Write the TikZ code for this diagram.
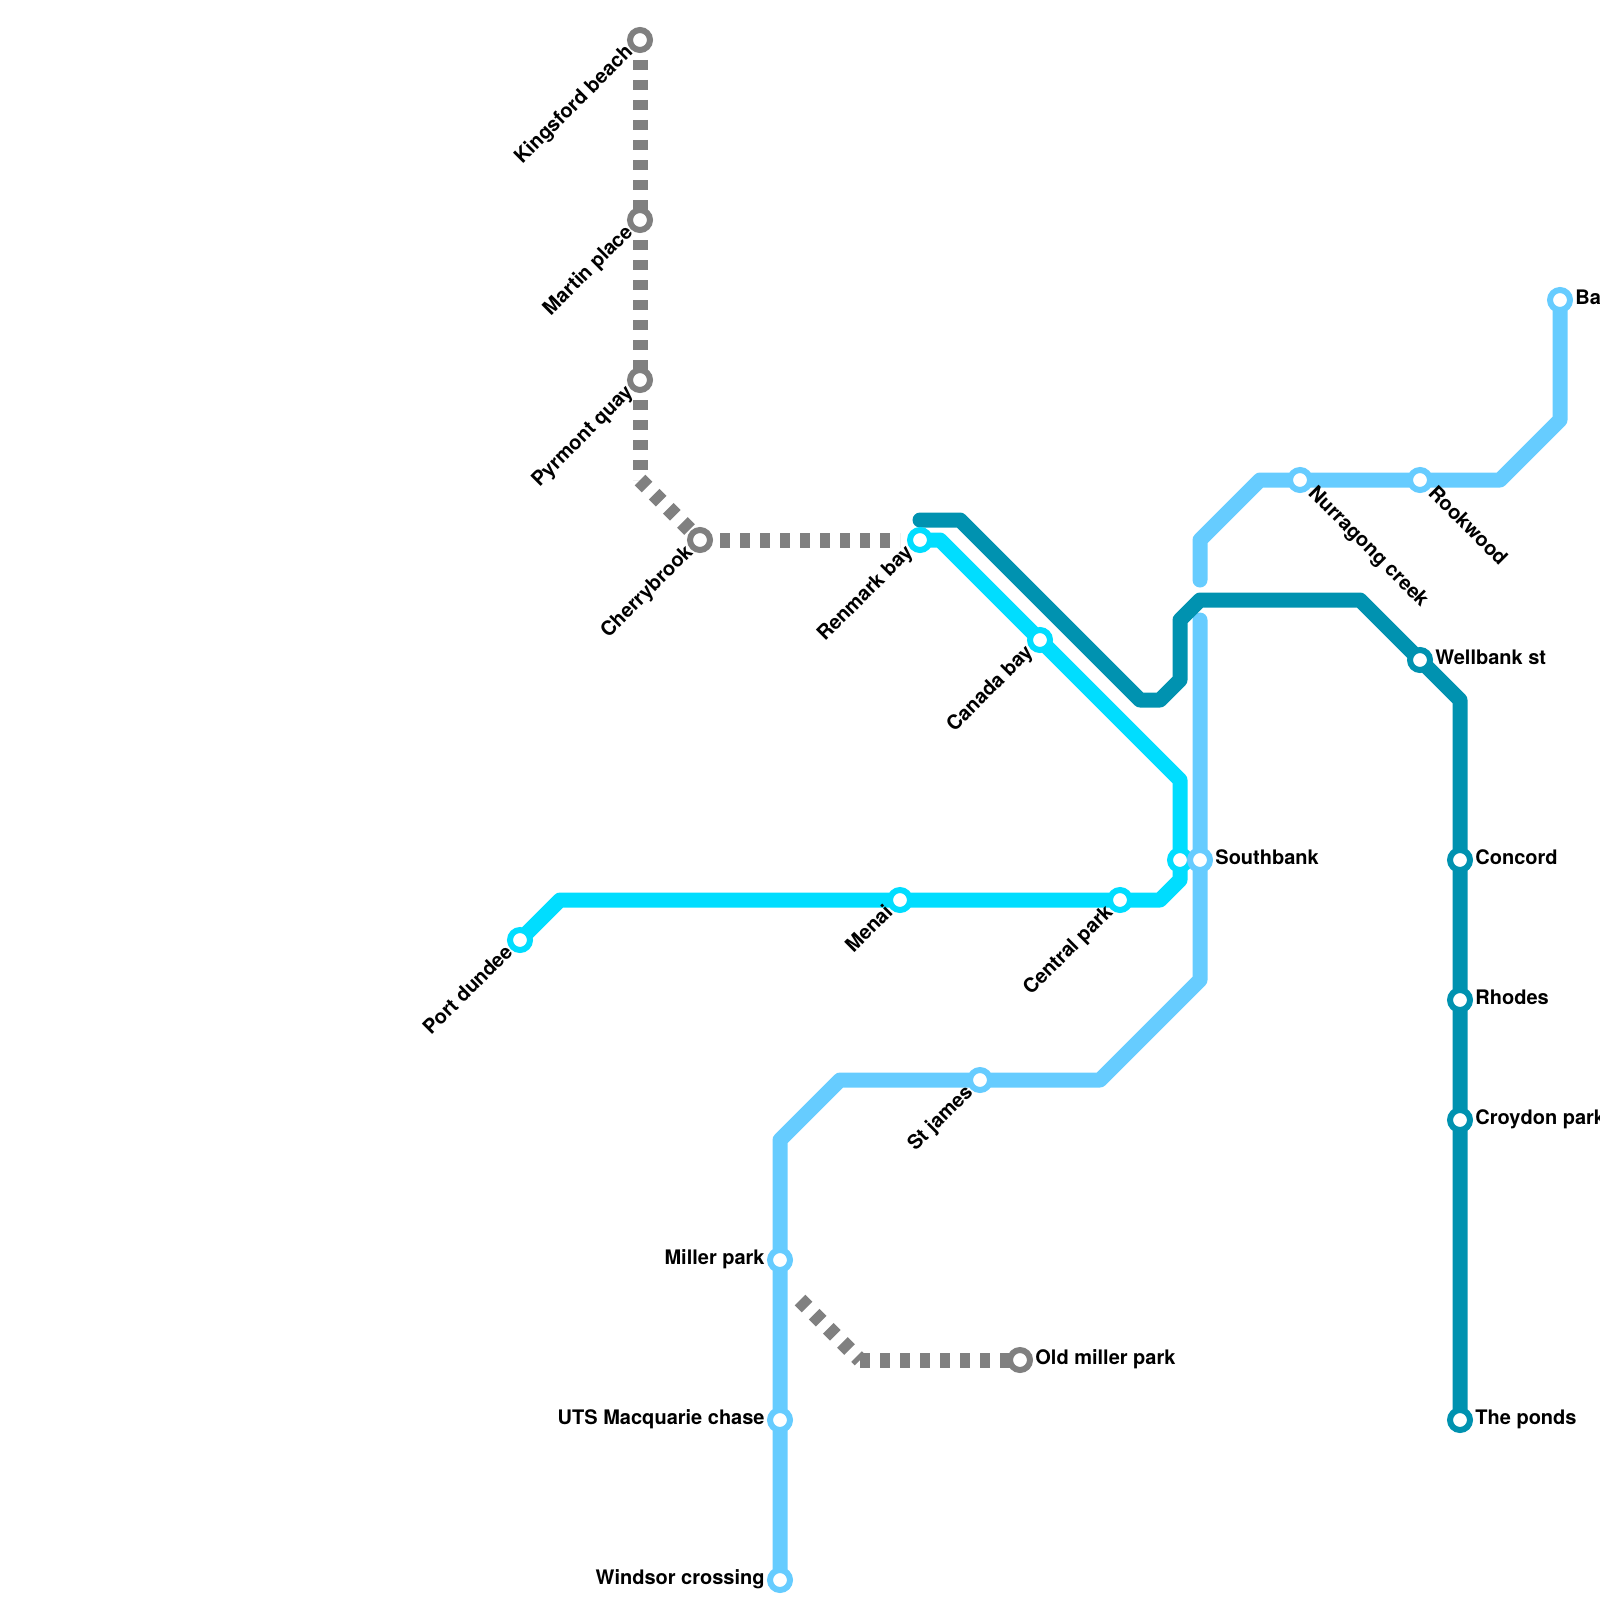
\documentclass[tikz,border=0pt]{standalone}
\usepackage{fontspec}
\setmainfont{TeX Gyre Heros}
\usetikzlibrary{backgrounds}
\definecolor{linecyan}{HTML}{00DDFF}
\definecolor{linedark}{HTML}{0092B0}
\definecolor{linelight}{HTML}{66CCFF}
\definecolor{linegrey}{HTML}{808080}
\tikzset{
    rail/.style={line width=7.5pt,line cap=round,line join=round},
    disused/.style={line width=7.5pt,linegrey,dash pattern=on 5pt off 5pt},
    stn/.style={circle,draw=#1,fill=white,line width=3pt,minimum size=10pt,inner sep=0pt,outer sep=0pt},
    lbl/.style={font=\bfseries\fontsize{10pt}{12pt}\selectfont,inner sep=0pt,text=black},
    lblright/.style={lbl,anchor=base west},
    lblleft/.style={lbl,anchor=base east},
    lblup/.style={lbl,anchor=base east,rotate=45},
    lbldown/.style={lbl,anchor=base west,rotate=-45},
}
\begin{document}
\begin{tikzpicture}[x=10pt,y=-10pt]
    \useasboundingbox (0,0) rectangle (80,80);
    \clip (0,0) rectangle (80,80);
    % grey
    \node[stn=linegrey] (kingsford) at (32,2) {};
    \node[stn=linegrey] (martin) at (32,11) {};
    \node[stn=linegrey] (pyrmont) at (32,19) {};
    \node[stn=linegrey] (cherrybrook) at (35,27) {};
    \node[stn=linegrey] (oldmiller) at (51,68) {};
    % cyan
    \node[stn=linecyan] (renmark) at (46,27) {};
    \node[stn=linecyan] (canada) at (52,32) {};
    \node[stn=linecyan] (southcyan) at (59,43) {};
    \node[stn=linecyan] (central) at (56,45) {};
    \node[stn=linecyan] (menai) at (45,45) {};
    \node[stn=linecyan] (dundee) at (26,47) {};
    % dark
    \node[stn=linedark] (wellbank) at (71,33) {};
    \node[stn=linedark] (concord) at (73,43) {};
    \node[stn=linedark] (rhodes) at (73,50) {};
    \node[stn=linedark] (croydon) at (73,56) {};
    \node[stn=linedark] (ponds) at (73,71) {};
    % light
    \node[stn=linelight] (ba) at (78,15) {};
    \node[stn=linelight] (rookwood) at (71,24) {};
    \node[stn=linelight] (nurragong) at (65,24) {};
    \node[stn=linelight] (southlight) at (60,43) {};
    \node[stn=linelight] (stjames) at (49,54) {};
    \node[stn=linelight] (miller) at (39,63) {};
    \node[stn=linelight] (uts) at (39,71) {};
    \node[stn=linelight] (windsor) at (39,79) {};
    % bends
    \coordinate (g1) at (32,24);
    \coordinate (g2) at (45,27);
    \coordinate (g3) at (40,65);
    \coordinate (g4) at (43,68);
    \coordinate (c1) at (28,45);
    \coordinate (c2) at (58,45);
    \coordinate (c3) at (59,44);
    \coordinate (c4) at (59,39);
    \coordinate (c5) at (47,27);
    \coordinate (d0) at (46,26);
    \coordinate (d1) at (48,26);
    \coordinate (d2) at (57,35);
    \coordinate (d3) at (58,35);
    \coordinate (d4) at (59,34);
    \coordinate (d5) at (59,31);
    \coordinate (d6) at (60,30);
    \coordinate (d7) at (68,30);
    \coordinate (d8) at (73,35);
    \coordinate (l1) at (78,21);
    \coordinate (l2) at (75,24);
    \coordinate (l3) at (63,24);
    \coordinate (l4) at (60,27);
    \coordinate (l5) at (60,29);
    \coordinate (l6) at (60,31);
    \coordinate (l7) at (60,49);
    \coordinate (l8) at (55,54);
    \coordinate (l9) at (42,54);
    \coordinate (l10) at (39,57);
    \begin{scope}[on background layer]
        \draw[disused] (kingsford.center) -- (martin.center) -- (pyrmont.center) -- (g1);
        \draw[disused] (g1) -- (cherrybrook.center);
        \draw[disused] (cherrybrook.center) -- (g2);
        \draw[disused] (g3) -- (g4);
        \draw[disused] (g4) -- (oldmiller.center);
        \draw[rail,linelight] (ba.center) -- (l1) -- (l2) -- (rookwood.center) -- (nurragong.center) -- (l3) -- (l4) -- (l5);
        \draw[rail,linelight] (l6) -- (southlight.center) -- (l7) -- (l8) -- (stjames.center) -- (l9) -- (l10) -- (miller.center) -- (uts.center) -- (windsor.center);
        \draw[rail,linecyan] (dundee.center) -- (c1) -- (menai.center) -- (central.center) -- (c2) -- (c3) -- (southcyan.center) -- (c4) -- (canada.center) -- (c5) -- (renmark.center);
        \draw[rail,linedark] (d0) -- (d1) -- (d2) -- (d3) -- (d4) -- (d5) -- (d6) -- (d7) -- (wellbank.center) -- (d8) -- (concord.center) -- (rhodes.center) -- (croydon.center) -- (ponds.center);
    \end{scope}
    % labels
    \node[lblup] (kingsfordlbl) at ([shift={(-0.3,0.65)}]kingsford.center) {Kingsford beach};
    \node[lblup] (martinlbl) at ([shift={(-0.3,0.65)}]martin.center) {Martin place};
    \node[lblup] (pyrmontlbl) at ([shift={(-0.3,0.65)}]pyrmont.center) {Pyrmont quay};
    \node[lblup] (cherrybrooklbl) at ([shift={(-0.3,0.65)}]cherrybrook.center) {Cherrybrook};
    \node[lblup] (renmarklbl) at ([shift={(-0.3,0.65)}]renmark.center) {Renmark bay};
    \node[lblup] (canadalbl) at ([shift={(-0.3,0.65)}]canada.center) {Canada bay};
    \node[lblup] (centrallbl) at ([shift={(-0.3,0.65)}]central.center) {Central park};
    \node[lblup] (menailbl) at ([shift={(-0.3,0.65)}]menai.center) {Menai};
    \node[lblup] (dundeelbl) at ([shift={(-0.3,0.65)}]dundee.center) {Port dundee};
    \node[lblup] (stjameslbl) at ([shift={(-0.3,0.65)}]stjames.center) {St james};
    \node[lbldown] (nurragonglbl) at ([shift={(0.35,0.7)}]nurragong.center) {Nurragong creek};
    \node[lbldown] (rookwoodlbl) at ([shift={(0.35,0.7)}]rookwood.center) {Rookwood};
    \node[lblright] (southbanklbl) at ([shift={(0.75,0.2)}]southlight.center) {Southbank};
    \node[lblright] (balbl) at ([shift={(0.75,0.2)}]ba.center) {Ba};
    \node[lblright] (wellbanklbl) at ([shift={(0.75,0.2)}]wellbank.center) {Wellbank st};
    \node[lblright] (concordlbl) at ([shift={(0.75,0.2)}]concord.center) {Concord};
    \node[lblright] (rhodeslbl) at ([shift={(0.75,0.2)}]rhodes.center) {Rhodes};
    \node[lblright] (croydonlbl) at ([shift={(0.75,0.2)}]croydon.center) {Croydon park};
    \node[lblright] (pondslbl) at ([shift={(0.75,0.2)}]ponds.center) {The ponds};
    \node[lblright] (oldmillerlbl) at ([shift={(0.75,0.2)}]oldmiller.center) {Old miller park};
    \node[lblleft] (millerlbl) at ([shift={(-0.75,0.2)}]miller.center) {Miller park};
    \node[lblleft] (utslbl) at ([shift={(-0.75,0.2)}]uts.center) {UTS Macquarie chase};
    \node[lblleft] (windsorlbl) at ([shift={(-0.75,0.2)}]windsor.center) {Windsor crossing};
\end{tikzpicture}
\end{document}
